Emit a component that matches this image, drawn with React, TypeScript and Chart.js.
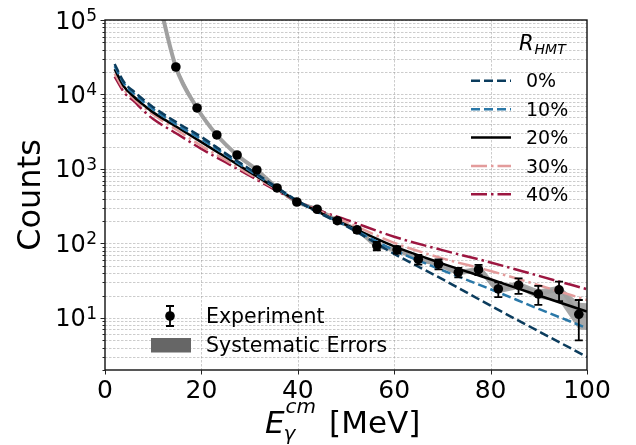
import { useEffect, useRef } from "react";
import { Chart, registerables } from "chart.js";
Chart.register(...registerables);

// ---------- data ----------
const theoryX = [2, 4, 6, 8, 10, 15, 20, 25, 30, 35, 40, 45, 50, 60, 70, 80, 90, 100];
const hmt0 = [25700, 14450, 10960, 8510, 6760, 4170, 2690, 1620, 1000, 603, 372, 245, 172, 72.4, 33.1, 14.6, 6.6, 3.0];
const hmt10 = [24000, 13800, 10230, 7940, 6310, 3890, 2510, 1550, 955, 589, 369, 249, 174, 81.3, 43.7, 24.3, 13.2, 7.3];
const hmt20 = [21900, 12600, 9330, 7240, 5750, 3630, 2290, 1450, 912, 575, 367, 252, 178, 91.2, 53.7, 33.1, 20.0, 12.2];
const hmt30 = [19050, 11480, 8710, 6760, 5370, 3310, 2040, 1320, 851, 556, 367, 263, 195, 102, 63.1, 42.7, 27.5, 17.4];
const hmt40 = [17380, 10590, 8130, 6030, 4680, 2950, 1860, 1230, 813, 537, 367, 269, 209, 123, 81.3, 55.6, 36.7, 24.3];

const expX = [14.7, 19.1, 23.2, 27.4, 31.5, 35.7, 39.8, 44.0, 48.2, 52.3, 56.4, 60.6, 65.0, 69.2, 73.3, 77.5, 81.6, 85.8, 89.9, 94.2, 98.3];
const expY = [23400, 6600, 2860, 1540, 970, 556, 360, 288, 202, 152, 93, 82, 61, 53, 41, 44.5, 24.5, 27.5, 21, 23.8, 11.2];
const expErr = [160, 80, 55, 40, 32, 24, 19, 17, 14, 12, 12, 9, 9, 8, 6, 7, 5.5, 6.5, 6, 7, 6.2];

const sysX = [11.2, 14.7, 19.1, 23.2, 27.4, 31.5, 35.7, 39.8, 44.0, 48.2, 52.3, 56.4, 60.6, 65.0, 69.2, 73.3, 77.5, 81.6, 85.8, 89.9, 94.2, 98.3, 100];
const sysLine = [180000, 23400, 6600, 2860, 1540, 970, 556, 360, 288, 202, 152, 93, 82, 61, 53, 41, 44.5, 24.5, 27.5, 21, 23.8, 11.2, 10.5];
const sysHigh = [190000, 24500, 6900, 3000, 1610, 1015, 582, 377, 302, 212, 160, 98, 87, 65, 57, 44.5, 48, 28, 30.5, 24, 27, 16, 15.8];
const sysLow = [170000, 22300, 6300, 2720, 1470, 925, 530, 343, 274, 192, 144, 88, 77, 57, 49, 37.5, 41, 21.5, 24.5, 18, 17, 7, 6.9];

const xTicks = [0, 20, 40, 60, 80, 100];
const xGrid = [20, 40, 60, 80];
const yMajorTicks = [10, 100, 1000, 10000, 100000];
const yMajorLabels = ["1", "2", "3", "4", "5"];
const seriesLabels = ["0%", "10%", "20%", "30%", "40%"];

// ---------- styles ----------
const FONT = '"DejaVu Sans"';
const colors = ["#0b3c5d", "#2a78a8", "#000000", "#e39b9b", "#9c1640"];
const dashes: number[][] = [[9, 4], [9, 4], [], [16, 4, 2.5, 4], [16, 4, 2.5, 4]];
const theory = [hmt0, hmt10, hmt20, hmt30, hmt40];

const yMinor: number[] = [];
for (let e = 0; e < 5; e++) {
  for (let m = 2; m <= 9; m++) yMinor.push(m * Math.pow(10, e));
}

const drawPlugin = {
  id: "custom",
  beforeDatasetsDraw(chart: any) {
    const { ctx, chartArea: a, scales } = chart;
    const x = scales.x, y = scales.y;
    ctx.save();
    ctx.beginPath();
    ctx.rect(a.left, a.top, a.right - a.left, a.bottom - a.top);
    ctx.clip();
    ctx.strokeStyle = "rgba(150,150,150,0.55)";
    ctx.lineWidth = 0.9;
    ctx.setLineDash([2.5, 1.5]);
    for (const v of [...yMajorTicks, ...yMinor]) {
      const py = Math.round(y.getPixelForValue(v)) + 0.5;
      ctx.beginPath();
      ctx.moveTo(a.left, py);
      ctx.lineTo(a.right, py);
      ctx.stroke();
    }
    for (const v of xGrid) {
      const px = Math.round(x.getPixelForValue(v)) + 0.5;
      ctx.beginPath();
      ctx.moveTo(px, a.top);
      ctx.lineTo(px, a.bottom);
      ctx.stroke();
    }
    ctx.restore();
  },
  afterDatasetsDraw(chart: any) {
    const { ctx, chartArea: a, scales } = chart;
    const x = scales.x, y = scales.y;
    ctx.save();
    // error bars
    ctx.strokeStyle = "#000";
    ctx.lineWidth = 1.8;
    ctx.setLineDash([]);
    for (let i = 0; i < expX.length; i++) {
      const px = x.getPixelForValue(expX[i]);
      const t = y.getPixelForValue(expY[i] + expErr[i]);
      const b = y.getPixelForValue(expY[i] - expErr[i]);
      ctx.beginPath();
      ctx.moveTo(px, t); ctx.lineTo(px, b);
      ctx.moveTo(px - 4, t); ctx.lineTo(px + 4, t);
      ctx.moveTo(px - 4, b); ctx.lineTo(px + 4, b);
      ctx.stroke();
    }
    // frame
    ctx.strokeStyle = "#111";
    ctx.lineWidth = 1.4;
    ctx.strokeRect(a.left, a.top, a.right - a.left, a.bottom - a.top);
    // ticks
    ctx.lineWidth = 1;
    ctx.strokeStyle = "#222";
    for (const v of yMajorTicks) {
      const py = Math.round(y.getPixelForValue(v)) + 0.5;
      ctx.beginPath(); ctx.moveTo(a.left - 4.5, py); ctx.lineTo(a.left, py); ctx.stroke();
    }
    for (const v of yMinor) {
      if (v < 2) continue;
      const py = Math.round(y.getPixelForValue(v)) + 0.5;
      ctx.beginPath(); ctx.moveTo(a.left - 2.5, py); ctx.lineTo(a.left, py); ctx.stroke();
    }
    for (const v of xTicks) {
      const px = Math.round(x.getPixelForValue(v)) + 0.5;
      ctx.beginPath(); ctx.moveTo(px, a.bottom); ctx.lineTo(px, a.bottom + 4.5); ctx.stroke();
    }
    // tick labels
    ctx.fillStyle = "#000";
    ctx.font = `25px ${FONT}`;
    ctx.textAlign = "center";
    ctx.textBaseline = "alphabetic";
    for (const v of xTicks) {
      ctx.fillText(String(v), x.getPixelForValue(v), a.bottom + 28);
    }
    for (let i = 0; i < yMajorTicks.length; i++) {
      const py = y.getPixelForValue(yMajorTicks[i]);
      ctx.textAlign = "right";
      ctx.font = `17px ${FONT}`;
      const sw = ctx.measureText(yMajorLabels[i]).width;
      ctx.fillText(yMajorLabels[i], 97, py + 1);
      ctx.font = `24px ${FONT}`;
      ctx.fillText("10", 97 - sw - 0.5, py + 8.5);
    }
    // axis titles
    ctx.save();
    ctx.translate(40, 195);
    ctx.rotate(-Math.PI / 2);
    ctx.textAlign = "center";
    ctx.font = `32px ${FONT}`;
    ctx.fillText("Counts", 0, 0);
    ctx.restore();

    ctx.textAlign = "left";
    const cx = 265;
    ctx.font = `italic 31px ${FONT}`;
    ctx.fillText("E", cx, 433);
    const ew = ctx.measureText("E").width;
    ctx.font = `italic 20px ${FONT}`;
    ctx.fillText("cm", cx + ew + 1, 413);
    const cmw = ctx.measureText("cm").width;
    ctx.fillText("γ", cx + ew - 1, 440);
    ctx.font = `31px ${FONT}`;
    ctx.fillText("[MeV]", cx + ew + 1 + cmw + 13, 433);

    // right legend
    ctx.font = `italic 21px ${FONT}`;
    ctx.fillText("R", 519, 50);
    const rw = ctx.measureText("R").width;
    ctx.font = `italic 14px ${FONT}`;
    ctx.fillText("HMT", 519 + rw + 1, 54);
    const rows = [80.7, 109.3, 137.5, 166, 194.3];
    ctx.font = `19px ${FONT}`;
    for (let i = 0; i < 5; i++) {
      ctx.strokeStyle = colors[i];
      ctx.lineWidth = 2.5;
      ctx.setLineDash(dashes[i]);
      ctx.beginPath();
      ctx.moveTo(471, rows[i]);
      ctx.lineTo(511, rows[i]);
      ctx.stroke();
      ctx.setLineDash([]);
      ctx.fillStyle = "#000";
      ctx.fillText(seriesLabels[i], 526, rows[i] + 6.5);
    }

    // bottom-left legend
    ctx.strokeStyle = "#000";
    ctx.lineWidth = 1.8;
    ctx.beginPath();
    ctx.moveTo(170, 306); ctx.lineTo(170, 326);
    ctx.moveTo(166, 306); ctx.lineTo(174, 306);
    ctx.moveTo(166, 326); ctx.lineTo(174, 326);
    ctx.stroke();
    ctx.beginPath();
    ctx.arc(170, 316, 4.8, 0, Math.PI * 2);
    ctx.fill();
    ctx.fillStyle = "#666";
    ctx.fillRect(151, 338, 40, 14.5);
    ctx.fillStyle = "#000";
    ctx.font = `20.5px ${FONT}`;
    ctx.fillText("Experiment", 206, 323.3);
    ctx.fillText("Systematic Errors", 206, 351.7);
    ctx.restore();
  },
};

export default function App() {
  const ref = useRef<HTMLCanvasElement | null>(null);
  useEffect(() => {
    if (!ref.current) return;
    const pts = (xs: number[], ys: number[]) => xs.map((v, i) => ({ x: v, y: ys[i] }));
    const theorySets = theory.map((arr, i) => ({
      label: seriesLabels[i],
      data: pts(theoryX, arr),
      borderColor: colors[i],
      borderWidth: 2.5,
      borderDash: dashes[i],
      pointRadius: 0,
      fill: false,
      cubicInterpolationMode: "monotone" as const,
      order: 2 + i,
      clip: 0,
    }));
    const chart = new Chart(ref.current, {
      type: "line",
      data: {
        datasets: [
          {
            label: "Experiment",
            data: pts(expX, expY),
            showLine: false,
            pointRadius: 4.8,
            pointBackgroundColor: "#000",
            pointBorderColor: "#000",
            pointBorderWidth: 0,
            order: 0,
            clip: 0,
          } as any,
          ...theorySets,
          {
            label: "sysLine",
            data: pts(sysX, sysLine),
            borderColor: "#a0a0a0",
            borderWidth: 4,
            pointRadius: 0,
            fill: false,
            cubicInterpolationMode: "monotone",
            order: 10,
            clip: 0,
          },
          {
            label: "sysHigh",
            data: pts(sysX, sysHigh),
            borderWidth: 0,
            borderColor: "rgba(0,0,0,0)",
            backgroundColor: "#a8a8a8",
            pointRadius: 0,
            fill: "+1",
            order: 11,
            clip: 0,
          },
          {
            label: "sysLow",
            data: pts(sysX, sysLow),
            borderWidth: 0,
            borderColor: "rgba(0,0,0,0)",
            pointRadius: 0,
            fill: false,
            order: 12,
            clip: 0,
          },
        ],
      },
      options: {
        animation: false,
        responsive: false,
        events: [],
        layout: { padding: { left: 0, right: 49, top: 20, bottom: 0 } },
        plugins: { legend: { display: false }, tooltip: { enabled: false } },
        scales: {
          x: {
            type: "linear",
            min: 0,
            max: 100,
            grid: { display: false },
            border: { display: false },
            ticks: { display: false },
            afterFit: (s: any) => { s.height = 75; },
          },
          y: {
            type: "logarithmic",
            min: 2,
            max: 100000,
            grid: { display: false },
            border: { display: false },
            ticks: { display: false },
            afterFit: (s: any) => { s.width = 105; },
          },
        },
      },
      plugins: [drawPlugin],
    });
    return () => chart.destroy();
  }, []);
  return (
    <div style={{ position: "fixed", left: 0, top: 0, width: 636, height: 445, background: "#fff" }}>
      <canvas ref={ref} width={636} height={445} style={{ width: 636, height: 445, display: "block" }} />
    </div>
  );
}
